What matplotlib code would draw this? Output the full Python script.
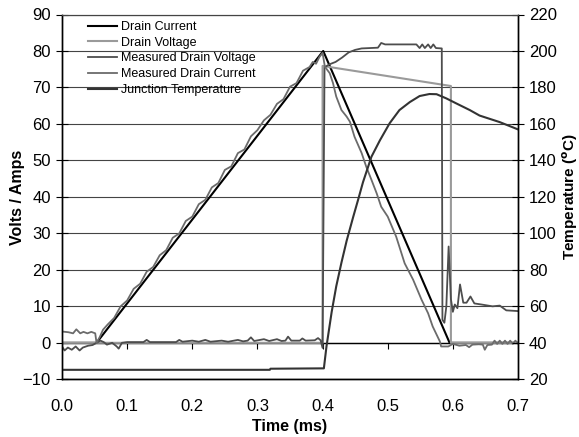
#==========================================
# Power MOSFET turn-off transient: model vs measurement
#==========================================

import numpy as np
import matplotlib
matplotlib.use('Agg')
import matplotlib.pyplot as plt

plt.rcParams['font.family'] = ['Liberation Sans', 'DejaVu Sans']

# Ideal drain current (A) : (time ms, value)
drain_current = [(0.000, 0.0), (0.053, 0.0), (0.401, 80.0), (0.595, 0.0), (0.700, 0.0)]

# Ideal drain voltage (V)
drain_voltage = [(0.000, 0.0), (0.400, 0.0), (0.400, 75.9), (0.597, 70.4), (0.597, 0.0), (0.700, 0.0)]

# Measured drain voltage (V)
meas_voltage = [
    (0.000, -1.0), (0.004, -2.1), (0.009, -1.3), (0.015, -1.9), (0.021, -1.0), (0.027, -2.1),
    (0.032, -1.3), (0.040, -0.8), (0.047, -0.6), (0.053, 0.0), (0.059, 0.6), (0.064, 0.2),
    (0.069, -0.5), (0.077, 0.0), (0.084, -1.0), (0.087, -1.6), (0.092, 0.0), (0.100, 0.2),
    (0.125, 0.2), (0.130, 0.8), (0.135, 0.2), (0.175, 0.2), (0.180, 0.8), (0.185, 0.3),
    (0.200, 0.6), (0.210, 0.3), (0.220, 0.8), (0.228, 0.3), (0.245, 0.6), (0.255, 0.3),
    (0.270, 0.8), (0.278, 0.4), (0.285, 0.6), (0.290, 1.5), (0.295, 0.5), (0.310, 1.0),
    (0.318, 0.5), (0.330, 1.0), (0.337, 0.5), (0.343, 0.6), (0.347, 1.7), (0.352, 0.6),
    (0.365, 0.6), (0.369, 1.2), (0.374, 0.6), (0.388, 0.7), (0.393, 1.3), (0.397, 0.7),
    (0.400, -1.4), (0.403, 75.5), (0.410, 76.3), (0.420, 77.0), (0.430, 78.2), (0.440, 79.6),
    (0.450, 80.3), (0.460, 80.7), (0.485, 80.9), (0.490, 82.2), (0.496, 81.8), (0.544, 81.8),
    (0.549, 80.8), (0.553, 81.8), (0.557, 80.8), (0.562, 81.8), (0.566, 80.8), (0.570, 81.8),
    (0.574, 80.8), (0.583, 80.7), (0.584, 6.3), (0.587, 5.5), (0.590, 10.0), (0.5935, 26.4),
    (0.597, 12.0), (0.600, 8.5), (0.603, 10.5), (0.607, 9.5), (0.611, 16.0), (0.616, 11.0),
    (0.621, 11.0), (0.627, 12.7), (0.633, 10.8), (0.644, 10.5), (0.661, 10.0), (0.672, 10.2),
    (0.682, 8.9), (0.700, 8.7),
]

# Measured drain current (A)
meas_current = [
    (0.000, 3.1), (0.010, 2.9), (0.017, 2.6), (0.022, 3.7), (0.028, 2.6), (0.033, 3.0),
    (0.039, 2.6), (0.045, 3.0), (0.051, 2.6), (0.053, 0.0), (0.058, 1.6), (0.063, 3.6),
    (0.070, 5.0), (0.080, 6.8), (0.090, 10.0), (0.100, 11.6), (0.110, 14.8), (0.120, 16.2),
    (0.130, 19.5), (0.140, 20.8), (0.150, 24.0), (0.160, 25.4), (0.170, 28.8), (0.180, 30.0),
    (0.190, 33.4), (0.200, 34.6), (0.210, 38.0), (0.220, 39.2), (0.230, 42.6), (0.240, 43.8),
    (0.250, 47.4), (0.260, 48.4), (0.270, 52.0), (0.280, 53.0), (0.290, 56.6), (0.300, 58.3),
    (0.310, 61.0), (0.320, 62.5), (0.330, 65.5), (0.340, 66.8), (0.350, 70.2), (0.360, 71.2),
    (0.370, 74.6), (0.380, 75.6), (0.385, 77.0), (0.390, 76.5), (0.395, 78.3), (0.400, 79.5),
    (0.4035, 75.7), (0.411, 73.9), (0.416, 71.2), (0.421, 67.5), (0.429, 63.8), (0.437, 62.0),
    (0.442, 60.6), (0.449, 56.5), (0.460, 52.0), (0.467, 48.3), (0.475, 44.7), (0.483, 41.0),
    (0.490, 37.3), (0.500, 34.6), (0.513, 29.1), (0.526, 21.8), (0.539, 17.3), (0.552, 11.8),
    (0.562, 8.1), (0.569, 4.5), (0.580, 0.4), (0.582, -1.0), (0.593, -1.0), (0.600, -0.3),
    (0.610, -0.8), (0.620, -0.6), (0.625, -1.2), (0.630, -0.5), (0.640, -0.4), (0.646, -0.5),
    (0.649, -1.9), (0.653, -0.6), (0.660, -0.5), (0.664, 0.6), (0.668, -0.3), (0.672, 0.6),
    (0.676, -0.3), (0.680, 0.6), (0.684, -0.3), (0.688, 0.6), (0.692, -0.3), (0.696, 0.6),
    (0.700, -0.2),
]

# Junction temperature (deg C)
junction_temp = [
    (0.000, 25.2), (0.319, 25.2), (0.320, 25.8), (0.402, 26.0), (0.406, 38.0), (0.414, 57.0),
    (0.421, 71.0), (0.429, 84.0), (0.437, 96.0), (0.447, 109.0), (0.455, 119.0), (0.462, 128.0),
    (0.475, 142.0), (0.488, 151.0), (0.503, 160.4), (0.518, 167.6), (0.534, 172.0), (0.549, 175.3),
    (0.564, 176.4), (0.575, 176.3), (0.590, 174.0), (0.605, 171.3), (0.626, 167.6), (0.641, 164.6),
    (0.672, 161.0), (0.700, 157.0),
]

x_ticks = [0.0, 0.1, 0.2, 0.3, 0.4, 0.5, 0.6, 0.7]
y_ticks = list(range(-10, 91, 10))
t_ticks = list(range(20, 221, 20))

"""
Plot
"""
fig = plt.figure(figsize=(5.79, 4.37), dpi=100)
ax = fig.add_axes([62 / 579, 1 - 379.3 / 437, 456 / 579, 364.8 / 437])
ax.set_xlim(0, 0.7)
ax.set_ylim(-10, 90)

# Horizontal gridlines and the x axis line through zero
ax.set_yticks(y_ticks)
ax.yaxis.grid(True, color='#444444', lw=0.8)
ax.set_axisbelow(True)
ax.axhline(0, color='black', lw=1.0, zorder=1)
ax.vlines(x_ticks, -1.6, 0, color='black', lw=0.8, zorder=1)

series = [
    (drain_current, 'Drain Current', 'black', 1.5),
    (drain_voltage, 'Drain Voltage', '#9a9a9a', 1.5),
    (meas_voltage, 'Measured Drain Voltage', '#4d4d4d', 1.3),
    (meas_current, 'Measured Drain Current', '#6b6b6b', 1.3),
]
handles = []
for data, label, color, lw in series:
    arr = np.array(data)
    h, = ax.plot(arr[:, 0], arr[:, 1], color=color, lw=lw, label=label, zorder=2)
    handles.append(h)

ax2 = ax.twinx()
ax2.set_ylim(20, 220)
ax2.set_yticks(t_ticks)
temp = np.array(junction_temp)
h, = ax2.plot(temp[:, 0], temp[:, 1], color='#333333', lw=1.5, label='Junction Temperature')
handles.append(h)

# Axis styling
ax.set_xticks(x_ticks)
ax.set_xticklabels([f'{x:.1f}' for x in x_ticks])
ax.tick_params(axis='x', length=0, pad=14, labelsize=12)
ax.tick_params(axis='y', direction='inout', length=8, width=0.8, labelsize=12, pad=4)
ax2.tick_params(axis='y', direction='inout', length=8, width=0.8, labelsize=12, pad=4)
for sp in ['left', 'right', 'bottom']:
    ax.spines[sp].set_linewidth(1.0)
    ax2.spines[sp].set_linewidth(1.0)
ax.spines['top'].set_color('#444444')
ax2.spines['top'].set_color('#444444')
ax.spines['top'].set_linewidth(0.8)
ax2.spines['top'].set_linewidth(0.8)

ax.set_xlabel('Time (ms)', fontsize=11.5, fontweight='bold')
ax.xaxis.set_label_coords(0.5, -0.108)
ax.set_ylabel('Volts / Amps', fontsize=11.5, fontweight='bold')
ax.yaxis.set_label_coords(-0.081, 0.5)
ax2.set_ylabel(r'Temperature ($\mathbf{^{o}}$C)', fontsize=11, fontweight='bold')
ax2.yaxis.set_label_coords(1.094, 0.5)

ax2.legend(handles=handles, loc='upper left', bbox_to_anchor=(88 / 579, 1 - 21.0 / 437),
           bbox_transform=fig.transFigure, frameon=False, fontsize=9,
           borderpad=0, borderaxespad=0, handlelength=2.3, handletextpad=0.32,
           labelspacing=0.3)

plt.savefig('out.png', dpi=100)
plt.close()
